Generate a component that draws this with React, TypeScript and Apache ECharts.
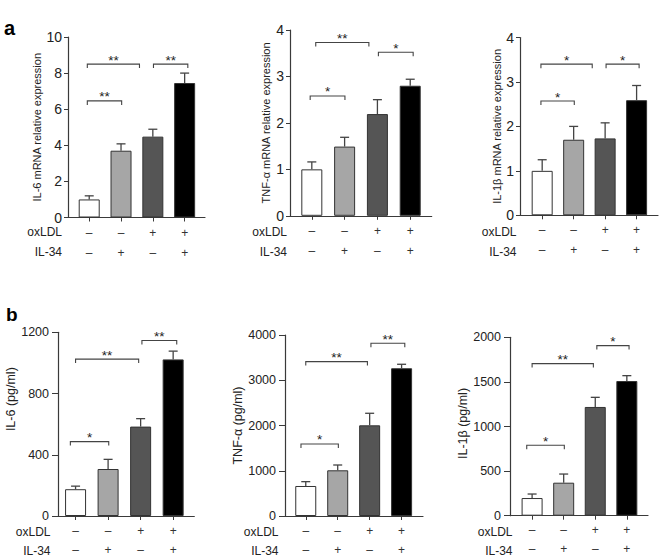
import React, { useEffect, useRef } from "react";
import * as echarts from "echarts";

// Group positions on the x scale and the treatment table
const groupPositions = [1, 2, 3, 4];
const oxLDLSigns = ["–", "–", "+", "+"];
const il34Signs = ["–", "+", "–", "+"];
const barColors = ["#ffffff", "#a6a6a6", "#555555", "#000000"];

// Panel a: mRNA relative expression (mean, SD)
const il6MrnaMean = [1.0, 3.7, 4.48, 7.45];
const il6MrnaErr = [0.2, 0.38, 0.41, 0.55];
const tnfMrnaMean = [1.0, 1.49, 2.19, 2.8];
const tnfMrnaErr = [0.16, 0.2, 0.31, 0.14];
const il1bMrnaMean = [1.0, 1.7, 1.73, 2.59];
const il1bMrnaErr = [0.25, 0.3, 0.35, 0.33];

// Panel b: protein (pg/ml)
const il6ProtMean = [175, 307, 584, 1023];
const il6ProtErr = [20, 63, 52, 54];
const tnfProtMean = [663, 1010, 2004, 3265];
const tnfProtErr = [96, 117, 266, 88];
const il1bProtMean = [198, 370, 1219, 1510];
const il1bProtErr = [45, 97, 108, 60];

// Significance brackets: [xStart, xEnd, yLevel]
const il6MrnaBrackets = [[0.94, 2.02, 6.46], [0.94, 2.58, 8.5], [3.02, 4.1, 8.5]];
const il6MrnaStars = ["**", "**", "**"];
const tnfMrnaBrackets = [[0.95, 2.01, 2.58], [1.12, 2.74, 3.73], [3.03, 4.09, 3.52]];
const tnfMrnaStars = ["*", "**", "*"];
const il1bMrnaBrackets = [[0.96, 2.02, 2.57], [0.96, 2.59, 3.4], [3.03, 4.08, 3.4]];
const il1bMrnaStars = ["*", "*", "*"];
const il6ProtBrackets = [[0.84, 2.02, 486], [1.0, 2.94, 1025], [3.04, 4.11, 1146]];
const il6ProtStars = ["*", "**", "**"];
const tnfProtBrackets = [[0.85, 2.02, 1592], [1.0, 2.93, 3412], [3.04, 4.1, 3817]];
const tnfProtStars = ["*", "**", "**"];
const il1bProtBrackets = [[0.83, 2.02, 789], [1.0, 2.94, 1705], [3.05, 4.07, 1907]];
const il1bProtStars = ["*", "**", "*"];

// Axis scales
const yMaxes = [10, 4, 4, 1200, 4000, 2000];
const yIntervals = [2, 1, 1, 400, 1000, 500];
const yNames = [
  "IL-6 mRNA relative expression",
  "TNF-α mRNA relative expression",
  "IL-1β mRNA relative expression",
  "IL-6 (pg/ml)",
  "TNF-α (pg/ml)",
  "IL-1β (pg/ml)",
];
const rowLabels = ["oxLDL", "IL-34"];

const FONT = "'Liberation Sans', Arial, Helvetica, sans-serif";

export default function App() {
  const ref = useRef<HTMLDivElement | null>(null);

  useEffect(() => {
    document.body.style.margin = "0";
    if (!ref.current) return;
    const chart = echarts.init(ref.current, undefined, { renderer: "svg" });

    const means = [il6MrnaMean, tnfMrnaMean, il1bMrnaMean, il6ProtMean, tnfProtMean, il1bProtMean];
    const errs = [il6MrnaErr, tnfMrnaErr, il1bMrnaErr, il6ProtErr, tnfProtErr, il1bProtErr];
    const brackets = [il6MrnaBrackets, tnfMrnaBrackets, il1bMrnaBrackets, il6ProtBrackets, tnfProtBrackets, il1bProtBrackets];
    const stars = [il6MrnaStars, tnfMrnaStars, il1bMrnaStars, il6ProtStars, tnfProtStars, il1bProtStars];

    // layout per panel
    const layout = [
      { left: 68, right: 455, top: 37, bottom: 341.5, xMin: 0.333, xMax: 4.64, nameGap: 19, nameSize: 11, namePad: 0, tick: 4, lblMargin: 6, lh: 20, rowX: 62, rowY: [232, 252] },
      { left: 290, right: 228.3, top: 30, bottom: 343.2, xMin: 0.335, xMax: 4.655, nameGap: 19, nameSize: 11, namePad: 0, tick: 4, lblMargin: 6, lh: 20, rowX: 287, rowY: [232, 252] },
      { left: 520, right: 2, top: 37.5, bottom: 343.7, xMin: 0.295, xMax: 4.68, nameGap: 18, nameSize: 11, namePad: 0, tick: 4, lblMargin: 6, lh: 20, rowX: 516.5, rowY: [232, 252] },
      { left: 58, right: 465.7, top: 332.3, bottom: 41.7, xMin: 0.46, xMax: 4.65, nameGap: 37, nameSize: 12.5, namePad: 50, tick: 6, lblMargin: 9, lh: 19, rowX: 50.5, rowY: [531.7, 550.7] },
      { left: 285, right: 237, top: 335, bottom: 43, xMin: 0.35, xMax: 4.67, nameGap: 39, nameSize: 12.5, namePad: 0, tick: 6, lblMargin: 9, lh: 19, rowX: 278.5, rowY: [531.7, 550.7] },
      { left: 510, right: 12, top: 337.3, bottom: 43.3, xMin: 0.3, xMax: 4.67, nameGap: 38, nameSize: 12.5, namePad: 6, tick: 6, lblMargin: 9, lh: 19, rowX: 512.5, rowY: [531.7, 550.7] },
    ];

    const axisColor = "#3a3a3a";
    const grids: any[] = [];
    const xAxes: any[] = [];
    const yAxes: any[] = [];
    const series: any[] = [];
    const graphics: any[] = [];

    const errRender = (params: any, api: any) => {
      const x = api.value(0);
      const m = api.value(1);
      const e = api.value(2);
      const base = api.coord([x, m]);
      const top = api.coord([x, m + e]);
      const cw = 4.5;
      const st = { stroke: "#444", lineWidth: 1.3 };
      return {
        type: "group",
        children: [
          { type: "line", shape: { x1: base[0], y1: base[1], x2: top[0], y2: top[1] }, style: st },
          { type: "line", shape: { x1: top[0] - cw, y1: top[1], x2: top[0] + cw, y2: top[1] }, style: st },
        ],
      };
    };

    const makeBracketRender = (labels: string[]) => (params: any, api: any) => {
      const a = api.coord([api.value(0), api.value(2)]);
      const b = api.coord([api.value(1), api.value(2)]);
      return {
        type: "group",
        children: [
          {
            type: "polyline",
            shape: { points: [[a[0], a[1] + 4], [a[0], a[1]], [b[0], b[1]], [b[0], b[1] + 4]] },
            style: { stroke: "#444", lineWidth: 1.1, fill: null },
          },
          {
            type: "text",
            x: (a[0] + b[0]) / 2,
            y: a[1] + 3,
            style: {
              text: labels[params.dataIndex],
              fill: "#222",
              font: `13.5px ${FONT}`,
              align: "center",
              verticalAlign: "bottom",
            },
          },
        ],
      };
    };

    layout.forEach((L, i) => {
      grids.push({ left: L.left, right: L.right, top: L.top, bottom: L.bottom, containLabel: false });
      xAxes.push({
        type: "value",
        gridIndex: i,
        min: L.xMin,
        max: L.xMax,
        splitLine: { show: false },
        axisLine: { show: true, onZero: false, lineStyle: { color: axisColor, width: 1.2 } },
        axisTick: { show: true, customValues: groupPositions, length: 4, lineStyle: { color: axisColor, width: 1 } },
        axisLabel: {
          show: true,
          customValues: groupPositions,
          formatter: (v: number) => {
            const k = groupPositions.indexOf(Math.round(v * 1000) / 1000);
            return k < 0 ? "" : `${oxLDLSigns[k]}\n${il34Signs[k]}`;
          },
          margin: 5,
          lineHeight: L.lh,
          color: "#333",
          fontSize: 12,
          fontFamily: FONT,
        },
      });
      yAxes.push({
        type: "value",
        gridIndex: i,
        min: 0,
        max: yMaxes[i],
        interval: yIntervals[i],
        name: yNames[i],
        nameLocation: "middle",
        nameGap: L.nameGap,
        nameTextStyle: {
          fontSize: L.nameSize,
          color: "#222",
          fontFamily: FONT,
          padding: [0, 0, 0, L.namePad],
        },
        splitLine: { show: false },
        axisLine: { show: true, lineStyle: { color: axisColor, width: 1.2 } },
        axisTick: { show: true, length: L.tick, lineStyle: { color: axisColor, width: 1 } },
        axisLabel: {
          margin: L.lblMargin,
          fontSize: i < 3 ? 14 : 12.5,
          color: "#222",
          fontFamily: FONT,
          formatter: (v: number) => String(v),
        },
      });
      series.push({
        type: "bar",
        xAxisIndex: i,
        yAxisIndex: i,
        barWidth: 21,
        data: groupPositions.map((x, k) => ({
          value: [x, means[i][k]],
          itemStyle: { color: barColors[k], borderColor: "#333", borderWidth: 1 },
        })),
        z: 2,
      });
      series.push({
        type: "custom",
        xAxisIndex: i,
        yAxisIndex: i,
        renderItem: errRender,
        encode: { x: 0, y: 1 },
        data: groupPositions.map((x, k) => [x, means[i][k], errs[i][k]]),
        z: 3,
        silent: true,
      });
      series.push({
        type: "custom",
        xAxisIndex: i,
        yAxisIndex: i,
        renderItem: makeBracketRender(stars[i]),
        encode: { x: [0, 1], y: 2 },
        data: brackets[i],
        z: 4,
        silent: true,
        clip: false,
      });
      rowLabels.forEach((t, r) => {
        graphics.push({
          type: "text",
          x: L.rowX,
          y: L.rowY[r],
          style: { text: t, fill: "#222", font: `12px ${FONT}`, align: "right", verticalAlign: "middle" },
        });
      });
    });

    graphics.push({ type: "text", x: 4, y: 18, style: { text: "a", fill: "#000", font: `bold 20px ${FONT}`, verticalAlign: "alphabetic" } });
    graphics.push({ type: "text", x: 6, y: 305, style: { text: "b", fill: "#000", font: `bold 19px ${FONT}`, verticalAlign: "alphabetic" } });

    chart.setOption({
      animation: false,
      backgroundColor: "#ffffff",
      textStyle: { fontFamily: FONT },
      grid: grids,
      xAxis: xAxes,
      yAxis: yAxes,
      series,
      graphic: graphics,
    });

    return () => chart.dispose();
  }, []);

  return <div ref={ref} style={{ width: 660, height: 559 }} />;
}
